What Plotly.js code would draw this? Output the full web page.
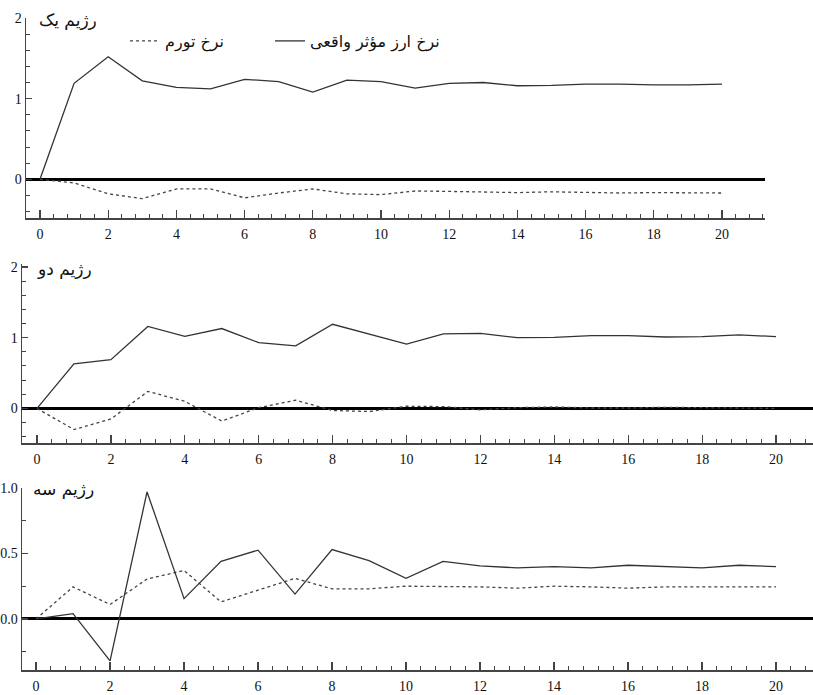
<!DOCTYPE html>
<html>
<head>
<meta charset="utf-8">
<script src="https://cdn.plot.ly/plotly-3.0.1.min.js"></script>
<style>html,body{margin:0;padding:0;background:#fff;}#chart{width:813px;height:695px;}</style>
</head>
<body>
<div id="chart"></div>
<script>
// horizon (periods)
const periods = [0,1,2,3,4,5,6,7,8,9,10,11,12,13,14,15,16,17,18,19,20];

// Regime 1
const reer1 = [0,1.19,1.52,1.22,1.14,1.12,1.24,1.21,1.08,1.23,1.21,1.13,1.19,1.20,1.16,1.165,1.18,1.18,1.17,1.17,1.18];
const infl1 = [0,-0.045,-0.18,-0.24,-0.12,-0.12,-0.23,-0.17,-0.12,-0.18,-0.19,-0.145,-0.15,-0.16,-0.165,-0.155,-0.16,-0.17,-0.165,-0.165,-0.17];

// Regime 2
const reer2 = [0,0.63,0.69,1.16,1.02,1.13,0.93,0.885,1.19,1.05,0.91,1.055,1.06,1.0,1.005,1.03,1.03,1.01,1.015,1.04,1.015];
const infl2 = [0,-0.30,-0.15,0.24,0.10,-0.18,0.01,0.115,-0.03,-0.045,0.03,0.025,-0.02,0.01,0.02,0.005,0.005,0.015,0.01,0.0,0.0];

// Regime 3
const reer3 = [0,0.04,-0.32,0.97,0.155,0.44,0.525,0.19,0.53,0.445,0.31,0.44,0.405,0.39,0.40,0.39,0.41,0.40,0.39,0.41,0.40];
const infl3 = [0,0.245,0.11,0.305,0.37,0.13,0.22,0.31,0.23,0.23,0.25,0.25,0.245,0.235,0.25,0.245,0.235,0.245,0.245,0.245,0.245];

// Labels
const seriesNames = ["نرخ تورم", "نرخ ارز مؤثر واقعی"];
const panelTitles = ["رژیم یک", "رژیم دو", "رژیم سه"];
const xTickVals = [0,2,4,6,8,10,12,14,16,18,20];

const W = 813, H = 695;
const solidStyle = {color:'#333333', width:1.3};
const dotStyle = {color:'#444444', width:1.3, dash:'dot'};

const traces = [
  {x:periods, y:infl1, xaxis:'x', yaxis:'y', mode:'lines', name:seriesNames[0], line:dotStyle, showlegend:true, legend:'legend'},
  {x:periods, y:reer1, xaxis:'x', yaxis:'y', mode:'lines', name:seriesNames[1], line:solidStyle, showlegend:true, legend:'legend2'},
  {x:periods, y:infl2, xaxis:'x2', yaxis:'y2', mode:'lines', name:seriesNames[0], line:dotStyle, showlegend:false},
  {x:periods, y:reer2, xaxis:'x2', yaxis:'y2', mode:'lines', name:seriesNames[1], line:solidStyle, showlegend:false},
  {x:periods, y:infl3, xaxis:'x3', yaxis:'y3', mode:'lines', name:seriesNames[0], line:dotStyle, showlegend:false},
  {x:periods, y:reer3, xaxis:'x3', yaxis:'y3', mode:'lines', name:seriesNames[1], line:solidStyle, showlegend:false}
];

const tickFont = {family:'Liberation Serif, Times New Roman, serif', size:14, color:'#111'};

function xAxis(domPx, range, anchor){
  return {
    domain:[domPx[0]/W, domPx[1]/W], range:range, anchor:anchor,
    showgrid:false, zeroline:false, showline:true, linecolor:'#444', linewidth:1.5,
    ticks:'inside', ticklen:8, tickwidth:1.2, tickcolor:'#444',
    tickmode:'array', tickvals:xTickVals, ticktext:xTickVals.map(String),
    tickfont:tickFont, ticklabelstandoff:3,
    minor:{ticks:'inside', ticklen:4, tickwidth:1, tickcolor:'#444', dtick:0.4, tick0:0},
    fixedrange:true
  };
}
function yAxis(domPx, range, anchor, dtick, minorDtick, fmt){
  return {
    domain:[1-domPx[1]/H, 1-domPx[0]/H], range:range, anchor:anchor,
    showgrid:false, zeroline:true, zerolinecolor:'#000', zerolinewidth:3,
    showline:true, linecolor:'#444', linewidth:1.5,
    ticks:'inside', ticklen:6, tickwidth:1.2, tickcolor:'#444',
    dtick:dtick, tick0:0, tickformat:fmt, tickfont:tickFont,
    minor:{ticks:'inside', ticklen:4, tickwidth:1, tickcolor:'#444', dtick:minorDtick, tick0:0},
    fixedrange:true
  };
}

const persianFont = {family:'DejaVu Sans', size:17, color:'#111'};
const legendFont = {family:'DejaVu Sans', size:16, color:'#111'};

const layout = {
  width:W, height:H,
  margin:{l:0, r:0, t:0, b:0},
  paper_bgcolor:'#fff', plot_bgcolor:'#fff',
  showlegend:true,
  legend:{orientation:'h', x:125/W, y:1-24/H, xanchor:'left', yanchor:'top',
          font:legendFont, bgcolor:'rgba(0,0,0,0)', itemwidth:30},
  legend2:{orientation:'h', x:270/W, y:1-24/H, xanchor:'left', yanchor:'top',
          font:legendFont, bgcolor:'rgba(0,0,0,0)', itemwidth:30},
  xaxis: xAxis([26,765], [-0.41,21.26], 'y'),
  yaxis: yAxis([18,218], [-0.48,2.0], 'x', 1, 0.2, 'd'),
  xaxis2: xAxis([22,813], [-0.406,21.0], 'y2'),
  yaxis2: yAxis([263.5,443], [-0.49,2.05], 'x2', 1, 0.2, 'd'),
  xaxis3: xAxis([22,813], [-0.38,21.0], 'y3'),
  yaxis3: yAxis([488,670], [-0.39,1.0], 'x3', 0.5, 0.25, '.1f'),
  annotations:[
    {text:panelTitles[0], xref:'paper', yref:'paper', x:99/W, y:1-21/H, xanchor:'right', yanchor:'middle', showarrow:false, font:persianFont},
    {text:panelTitles[1], xref:'paper', yref:'paper', x:94/W, y:1-269/H, xanchor:'right', yanchor:'middle', showarrow:false, font:persianFont},
    {text:panelTitles[2], xref:'paper', yref:'paper', x:96/W, y:1-489/H, xanchor:'right', yanchor:'middle', showarrow:false, font:persianFont}
  ]
};

Plotly.newPlot('chart', traces, layout, {displayModeBar:false, staticPlot:true});
</script>
</body>
</html>
